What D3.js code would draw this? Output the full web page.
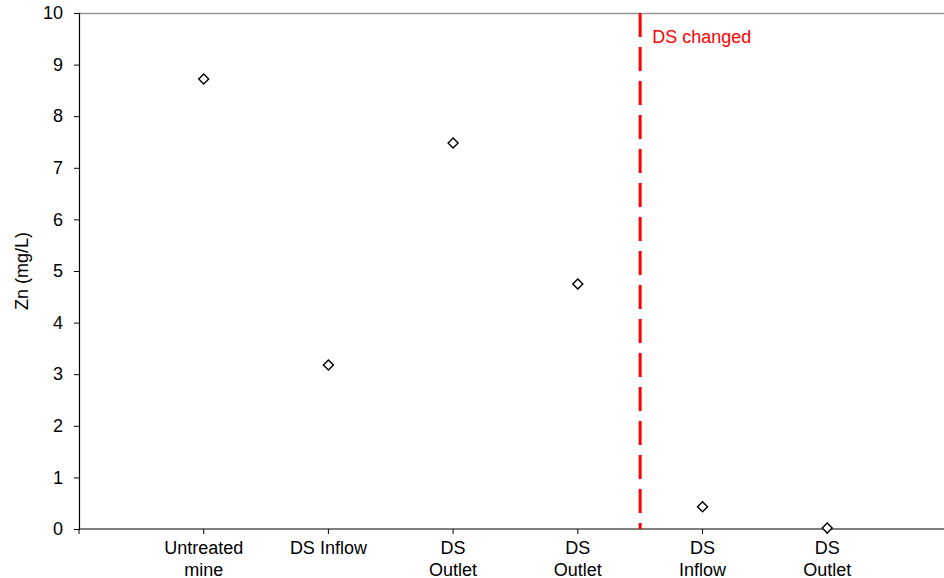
<!DOCTYPE html>
<html><head><meta charset="utf-8">
<script src="https://cdn.jsdelivr.net/npm/d3@7"></script>
<style>body{margin:0;background:#fff}svg{display:block;font-family:"Liberation Sans",Arial,sans-serif}</style>
</head><body>
<svg id="c" width="944" height="578"></svg>
<script>
const categories = [["Untreated","mine"],["DS Inflow"],["DS","Outlet"],["DS","Outlet"],["DS","Inflow"],["DS","Outlet"]];
const znValues = [8.72, 3.18, 7.48, 4.75, 0.43, 0.02];
const yTicks = [0,1,2,3,4,5,6,7,8,9,10];
const changeIndex = 4.5;
const changeLabel = "DS changed";
const yLabel = "Zn (mg/L)";

(function(){
const svg = d3.select("#c");
const mLeft = 79, mTop = 13, mBottom = 529;
const fs = 18;
const x = d3.scaleLinear().domain([0, 7]).range([mLeft, mLeft + 7*124.7]);
const y = d3.scaleLinear().domain([0, 10]).range([mBottom, mTop]);

// top border
svg.append("line").attr("x1", mLeft).attr("x2", 944).attr("y1", mTop+0.5).attr("y2", mTop+0.5)
  .attr("stroke", "#999").attr("stroke-width", 1.5);

// y axis
const ya = svg.append("g").attr("transform", `translate(${mLeft},0)`)
  .call(d3.axisLeft(y).tickValues(yTicks).tickSize(5).tickPadding(11).tickFormat(d3.format("d")));
ya.select(".domain").attr("stroke", "#000").attr("stroke-width", 1.2);
ya.selectAll(".tick line").attr("stroke", "#000");
ya.selectAll("text").attr("font-size", fs).attr("fill", "#000").attr("font-family", "Liberation Sans, Arial, sans-serif");

// x axis
svg.append("line").attr("x1", mLeft).attr("x2", 944).attr("y1", mBottom).attr("y2", mBottom)
  .attr("stroke", "#000").attr("stroke-width", 1.2);
const xt = [0,1,2,3,4,5,6];
svg.selectAll(".xt").data(xt).enter().append("line")
  .attr("x1", d => x(d)).attr("x2", d => x(d)).attr("y1", mBottom).attr("y2", mBottom+5)
  .attr("stroke", "#000");

// category labels
const lab = svg.selectAll(".cl").data(categories).enter().append("text")
  .attr("text-anchor", "middle").attr("font-size", fs).attr("fill", "#000")
  .attr("x", (d,i) => x(i+1)).attr("y", 554);
lab.selectAll("tspan").data(d => d).enter().append("tspan")
  .attr("x", function(){ return this.parentNode.getAttribute("x"); })
  .attr("dy", (d,i) => i === 0 ? 0 : 21.5).text(d => d);

// change line
svg.append("line").attr("x1", x(changeIndex)).attr("x2", x(changeIndex)).attr("y1", mTop).attr("y2", mBottom)
  .attr("stroke", "#ff0000").attr("stroke-width", 3).attr("stroke-dasharray", "24,10");
svg.append("text").attr("x", x(changeIndex)+12).attr("y", 43).attr("fill", "#ff0000")
  .attr("font-size", fs).text(changeLabel);

// y label
svg.append("text").attr("transform", `translate(28,${(mTop+mBottom)/2}) rotate(-90)`)
  .attr("text-anchor", "middle").attr("font-size", fs).attr("fill", "#000").text(yLabel);

// markers
const sym = d3.symbol().type(d3.symbolSquare).size(50);
svg.selectAll(".pt").data(znValues).enter().append("path")
  .attr("d", sym)
  .attr("transform", (d,i) => `translate(${x(i+1)},${y(d)}) rotate(45)`)
  .attr("fill", "#fff").attr("stroke", "#000").attr("stroke-width", 1.4);
})();
</script>
</body></html>
